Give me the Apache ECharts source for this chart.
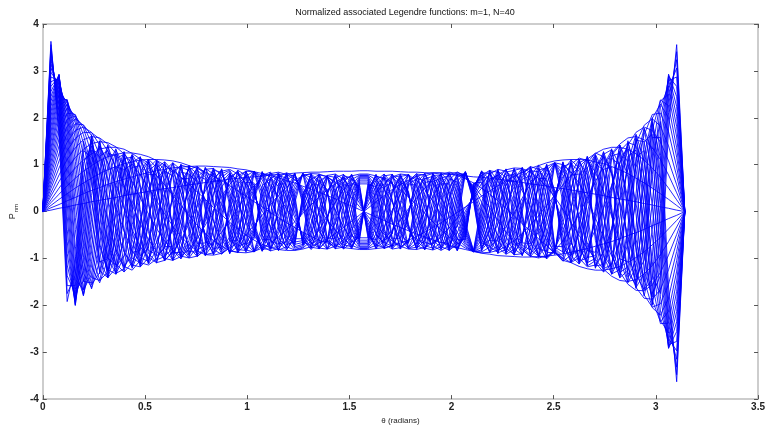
<!DOCTYPE html>
<html>
<head>
<meta charset="utf-8">
<script src="https://cdn.jsdelivr.net/npm/echarts@6/dist/echarts.min.js"></script>
<style>
html,body{margin:0;padding:0;background:#fff;}
#chart{width:768px;height:430px;}
</style>
</head>
<body>
<div id="chart"></div>
<script>
// theta samples (radians)
const theta = [0,0.0398,0.0795,0.1193,0.1591,0.1988,0.2386,0.2784,0.3181,0.3579,0.3977,0.4374,0.4772,0.5170,0.5567,0.5965,0.6363,0.6760,0.7158,0.7556,0.7953,0.8351,0.8749,0.9146,0.9544,0.9942,1.0339,1.0737,1.1135,1.1532,1.1930,1.2328,1.2725,1.3123,1.3521,1.3918,1.4316,1.4714,1.5111,1.5509,1.5907,1.6305,1.6702,1.7100,1.7498,1.7895,1.8293,1.8691,1.9088,1.9486,1.9884,2.0281,2.0679,2.1077,2.1474,2.1872,2.2270,2.2667,2.3065,2.3463,2.3860,2.4258,2.4656,2.5053,2.5451,2.5849,2.6246,2.6644,2.7042,2.7439,2.7837,2.8235,2.8632,2.9030,2.9428,2.9825,3.0223,3.0621,3.1018,3.1416];

// curve values, degree n = 1..40 (read/estimated from the picture)
const p1 = [0,.03,.07,.10,.14,.17,.21,.24,.27,.30,.34,.37,.40,.43,.46,.49,.51,.54,.57,.59,.62,.64,.67,.69,.71,.73,.74,.76,.78,.79,.80,.82,.83,.84,.84,.85,.86,.86,.86,.87,
.87,.86,.86,.86,.85,.84,.84,.83,.82,.80,.79,.78,.76,.74,.73,.71,.69,.67,.64,.62,.59,.57,.54,.51,.49,.46,.43,.40,.37,.34,.30,.27,.24,.21,.17,.14,.10,.07,.03,0];
const p2 = [0,.08,.15,.23,.30,.38,.45,.51,.58,.64,.69,.74,.79,.83,.87,.90,.93,.95,.96,.97,.97,.96,.95,.94,.91,.89,.85,.81,.77,.72,.66,.61,.54,.48,.41,.34,.27,.19,.12,.04,
-.04,-.12,-.19,-.27,-.34,-.41,-.48,-.54,-.61,-.66,-.72,-.77,-.81,-.85,-.89,-.91,-.94,-.95,-.96,-.97,-.97,-.96,-.95,-.93,-.90,-.87,-.83,-.79,-.74,-.69,-.64,-.58,-.51,-.45,-.38,-.30,-.23,-.15,-.08,0];
const p3 = [0,.13,.26,.38,.50,.61,.71,.81,.89,.96,1.02,1.06,1.10,1.11,1.11,1.10,1.08,1.04,.98,.92,.84,.75,.66,.55,.44,.33,.21,.10,-.02,-.13,-.24,-.34,-.44,-.53,-.61,-.67,-.73,-.77,-.79,-.81,
-.81,-.79,-.77,-.73,-.67,-.61,-.53,-.44,-.34,-.24,-.13,-.02,.10,.21,.33,.44,.55,.66,.75,.84,.92,.98,1.04,1.08,1.10,1.11,1.11,1.10,1.06,1.02,.96,.89,.81,.71,.61,.50,.38,.26,.13,0];
const p4 = [0,.19,.37,.55,.71,.86,.98,1.09,1.17,1.22,1.25,1.25,1.22,1.17,1.09,.99,.87,.73,.58,.42,.26,.09,-.07,-.23,-.37,-.50,-.61,-.70,-.77,-.81,-.83,-.83,-.80,-.75,-.67,-.58,-.47,-.34,-.21,-.07,
.07,.21,.34,.47,.58,.67,.75,.80,.83,.83,.81,.77,.70,.61,.50,.37,.23,.07,-.09,-.26,-.42,-.58,-.73,-.87,-.99,-1.09,-1.17,-1.22,-1.25,-1.25,-1.22,-1.17,-1.09,-.98,-.86,-.71,-.55,-.37,-.19,0];
const p5 = [0,.25,.50,.73,.93,1.10,1.23,1.33,1.37,1.37,1.33,1.24,1.12,.96,.77,.57,.35,.13,-.09,-.29,-.47,-.62,-.74,-.83,-.87,-.88,-.85,-.78,-.67,-.54,-.39,-.22,-.04,.14,.31,.46,.59,.69,.76,.80,
.80,.76,.69,.59,.46,.31,.14,-.04,-.22,-.39,-.54,-.67,-.78,-.85,-.88,-.87,-.83,-.74,-.62,-.47,-.29,-.09,.13,.35,.57,.77,.96,1.12,1.24,1.33,1.37,1.37,1.33,1.23,1.10,.93,.73,.50,.25,0];
const p6 = [0,.33,.64,.92,1.15,1.33,1.45,1.49,1.47,1.38,1.23,1.02,.78,.51,.23,-.05,-.31,-.53,-.71,-.84,-.92,-.93,-.89,-.78,-.66,-.50,-.29,-.08,.14,.35,.52,.67,.76,.81,.80,.74,.63,.48,.30,.10,
-.10,-.30,-.48,-.63,-.74,-.80,-.81,-.76,-.67,-.52,-.35,-.14,.08,.29,.50,.66,.78,.89,.93,.92,.84,.71,.53,.31,.05,-.23,-.51,-.78,-1.02,-1.23,-1.38,-1.47,-1.49,-1.45,-1.33,-1.15,-.92,-.64,-.33,0];
const p7 = [0,.40,.78,1.11,1.36,1.53,1.60,1.57,1.44,1.24,.96,.64,.29,-.05,-.36,-.63,-.83,-.95,-.99,-.95,-.82,-.65,-.44,-.19,.08,.33,.55,.71,.81,.84,.79,.68,.50,.29,.06,-.18,-.40,-.59,-.72,-.79,
-.79,-.72,-.59,-.40,-.18,.06,.29,.50,.68,.79,.84,.81,.71,.55,.33,.08,-.19,-.44,-.65,-.82,-.95,-.99,-.95,-.83,-.63,-.36,-.05,.29,.64,.96,1.24,1.44,1.57,1.60,1.53,1.36,1.11,.78,.40,0];
const p8 = [0,.49,.93,1.30,1.56,1.69,1.68,1.55,1.29,.95,.55,.14,-.26,-.60,-.85,-1.00,-1.04,-.96,-.80,-.58,-.29,.03,.33,.58,.76,.86,.85,.75,.57,.33,.06,-.22,-.47,-.66,-.78,-.80,-.74,-.60,-.39,-.13,
.13,.39,.60,.74,.80,.78,.66,.47,.22,-.06,-.33,-.57,-.75,-.85,-.86,-.76,-.58,-.33,-.03,.29,.58,.80,.96,1.04,1.00,.85,.60,.26,-.14,-.55,-.95,-1.29,-1.55,-1.68,-1.69,-1.56,-1.30,-.93,-.49,0];
const p9 = [0,.57,1.08,1.48,1.73,1.80,1.69,1.42,1.03,.56,.07,-.39,-.75,-.98,-1.09,-1.04,-.87,-.61,-.26,.11,.44,.71,.86,.90,.80,.60,.32,.01,-.31,-.57,-.75,-.82,-.78,-.63,-.39,-.10,.20,.47,.68,.78,
.78,.68,.47,.20,-.10,-.39,-.63,-.78,-.82,-.75,-.57,-.31,.01,.32,.60,.80,.90,.86,.71,.44,.11,-.26,-.61,-.87,-1.04,-1.09,-.98,-.75,-.39,.07,.56,1.03,1.42,1.69,1.80,1.73,1.48,1.08,.57,0];
const p10 = [0,.66,1.24,1.66,1.87,1.85,1.62,1.20,.67,.10,-.42,-.84,-1.09,-1.14,-1.01,-.74,-.39,.03,.43,.73,.90,.92,.78,.51,.17,-.20,-.52,-.74,-.84,-.79,-.61,-.33,.01,.34,.60,.77,.80,.69,.47,.17,
-.17,-.47,-.69,-.80,-.77,-.60,-.34,-.01,.33,.61,.79,.84,.74,.52,.20,-.17,-.51,-.78,-.92,-.90,-.73,-.43,-.03,.39,.74,1.01,1.14,1.09,.84,.42,-.10,-.67,-1.20,-1.62,-1.85,-1.87,-1.66,-1.24,-.66,0];
const p11 = [0,.76,1.40,1.82,1.98,1.84,1.46,.89,.25,-.36,-.86,-1.14,-1.18,-.99,-.66,-.22,.26,.65,.90,.96,.83,.53,.14,-.27,-.61,-.82,-.86,-.72,-.44,-.08,.30,.60,.78,.80,.66,.38,.03,-.33,-.62,-.78,
-.78,-.62,-.33,.03,.38,.66,.80,.78,.60,.30,-.08,-.44,-.72,-.86,-.82,-.61,-.27,.14,.53,.83,.96,.90,.65,.26,-.22,-.66,-.99,-1.18,-1.14,-.86,-.36,.25,.89,1.46,1.84,1.98,1.82,1.40,.76,0];
const p12 = [0,0.85,1.55,1.97,2.04,1.78,1.23,0.52,-0.20,-0.81,-1.17,-1.25,-1.04,-0.60,-0.08,0.40,0.80,0.99,0.94,0.67,0.25,-0.21,-0.60,-0.84,-0.87,-0.70,-0.36,0.06,0.45,0.73,0.83,0.73,0.45,0.07,-0.32,-0.63,-0.79,-0.76,-0.54,-0.20,
0.20,0.54,0.76,0.79,0.63,0.32,-0.07,-0.45,-0.73,-0.83,-0.73,-0.45,-0.06,0.36,0.70,0.87,0.84,0.60,0.21,-0.25,-0.67,-0.94,-0.99,-0.80,-0.40,0.08,0.60,1.04,1.25,1.17,0.81,0.20,-0.52,-1.23,-1.78,-2.04,-1.97,-1.55,-0.85,0];
const p13 = [0,.95,1.70,2.10,2.07,1.64,.94,.11,-.63,-1.12,-1.29,-1.09,-.67,-.10,.48,.88,1.04,.89,.51,.01,-.48,-.81,-.91,-.76,-.40,.06,.49,.77,.84,.67,.31,-.12,-.52,-.76,-.79,-.60,-.24,.18,.55,.77,
.77,.55,.18,-.24,-.60,-.79,-.76,-.52,-.12,.31,.67,.84,.77,.49,.06,-.40,-.76,-.91,-.81,-.48,.01,.51,.89,1.04,.88,.48,-.10,-.67,-1.09,-1.29,-1.12,-.63,.11,.94,1.64,2.07,2.10,1.70,.95,0];
const p14 = [0,1.05,1.85,2.21,2.05,1.46,.59,-.30,-.99,-1.32,-1.22,-.79,-.18,.47,.93,1.06,.87,.40,-.17,-.66,-.92,-.88,-.56,-.08,.41,.76,.86,.68,.29,-.19,-.60,-.81,-.76,-.46,-.02,.42,.72,.79,.61,.23,
-.23,-.61,-.79,-.72,-.42,.02,.46,.76,.81,.60,.19,-.29,-.68,-.86,-.76,-.41,.08,.56,.88,.92,.66,.17,-.40,-.87,-1.06,-.93,-.47,.18,.79,1.22,1.32,.99,.30,-.59,-1.46,-2.05,-2.21,-1.85,-1.05,0];
const p15 = [0,1.16,2.00,2.29,1.99,1.21,0.21,-0.69,-1.24,-1.33,-0.96,-0.28,0.41,0.93,1.10,0.87,0.35,-0.27,-0.76,-0.96,-0.81,-0.37,0.19,0.66,0.88,0.77,0.39,-0.13,-0.59,-0.82,-0.75,-0.41,0.07,0.53,0.78,0.75,0.44,-0.02,-0.48,-0.76,
-0.76,-0.48,-0.02,0.44,0.75,0.78,0.53,0.07,-0.41,-0.75,-0.82,-0.59,-0.13,0.39,0.77,0.88,0.66,0.19,-0.37,-0.81,-0.96,-0.76,-0.27,0.35,0.87,1.10,0.93,0.41,-0.28,-0.96,-1.33,-1.24,-0.69,0.21,1.21,1.99,2.29,2.00,1.16,0];
const p16 = [0,1.27,2.13,2.35,1.89,.93,-.17,-1.04,-1.41,-1.20,-.59,.18,.85,1.12,.94,.38,-.30,-.82,-.99,-.75,-.21,.39,.81,.88,.60,.08,-.46,-.80,-.80,-.47,.04,.54,.80,.73,.36,-.15,-.60,-.80,-.66,-.26,
.26,.66,.80,.60,.15,-.36,-.73,-.80,-.54,-.04,.47,.80,.80,.46,-.08,-.60,-.88,-.81,-.39,.21,.75,.99,.82,.30,-.38,-.94,-1.12,-.85,-.18,.59,1.20,1.41,1.04,.17,-.93,-1.89,-2.35,-2.13,-1.27,0];
const p17 = [0,1.36,2.26,2.38,1.74,0.61,-0.54,-1.26,-1.41,-0.90,-0.10,0.70,1.13,1.04,0.50,-0.24,-0.83,-1.01,-0.72,-0.13,0.51,0.88,0.84,0.42,-0.18,-0.69,-0.86,-0.64,-0.13,0.43,0.78,0.77,0.40,-0.15,-0.62,-0.80,-0.61,-0.14,0.40,0.75,
0.75,0.40,-0.14,-0.61,-0.80,-0.62,-0.15,0.40,0.77,0.78,0.43,-0.13,-0.64,-0.86,-0.69,-0.18,0.42,0.84,0.88,0.51,-0.13,-0.72,-1.01,-0.83,-0.24,0.50,1.04,1.13,0.70,-0.10,-0.90,-1.41,-1.26,-0.54,0.61,1.74,2.38,2.26,1.36,0];
const p18 = [0,1.48,2.38,2.39,1.56,.27,-.89,-1.47,-1.29,-.55,.36,1.05,1.16,.68,-.10,-.78,-1.04,-.76,-.11,.57,.92,.80,.28,-.37,-.81,-.83,-.42,.19,.69,.83,.54,-.03,-.57,-.81,-.64,-.14,.43,.77,.71,.29,
-.29,-.71,-.77,-.43,.14,.64,.81,.57,.03,-.54,-.83,-.69,-.19,.42,.83,.81,.37,-.28,-.80,-.92,-.57,.11,.76,1.04,.78,.10,-.68,-1.16,-1.05,-.36,.55,1.29,1.47,.89,-.27,-1.56,-2.39,-2.38,-1.48,0];
const p19 = [0,1.59,2.50,2.36,1.32,-0.08,-1.18,-1.52,-1.02,-0.05,0.84,1.22,0.93,0.15,-0.66,-1.05,-0.84,-0.17,0.56,0.95,0.79,0.19,-0.49,-0.87,-0.75,-0.21,0.43,0.82,0.74,0.24,-0.39,-0.78,-0.73,-0.26,0.35,0.76,0.73,0.29,-0.32,-0.74,
-0.74,-0.32,0.29,0.73,0.76,0.35,-0.26,-0.73,-0.78,-0.39,0.24,0.74,0.82,0.43,-0.21,-0.75,-0.87,-0.49,0.19,0.79,0.95,0.56,-0.17,-0.84,-1.05,-0.66,0.15,0.93,1.22,0.84,-0.05,-1.02,-1.52,-1.18,-0.08,1.32,2.36,2.50,1.59,0];
const p20 = [0,1.70,2.59,2.32,1.07,-.43,-1.41,-1.47,-.71,.36,1.13,1.16,.49,-.43,-1.03,-.96,-.31,.49,.95,.81,.18,-.54,-.90,-.69,-.06,.59,.86,.59,-.04,-.64,-.82,-.50,.14,.68,.79,.40,-.23,-.71,-.75,-.32,
.32,.75,.71,.23,-.40,-.79,-.68,-.14,.50,.82,.64,.04,-.59,-.86,-.59,.06,.69,.90,.54,-.18,-.81,-.95,-.49,.31,.96,1.03,.43,-.49,-1.16,-1.13,-.36,.71,1.47,1.41,.43,-1.07,-2.32,-2.59,-1.70,0];
const p21 = [0,1.81,2.68,2.23,0.79,-0.75,-1.56,-1.30,-0.28,0.81,1.27,0.89,-0.06,-0.89,-1.08,-0.53,0.33,0.94,0.88,0.24,-0.54,-0.92,-0.67,0.03,0.68,0.86,0.45,-0.26,-0.77,-0.75,-0.22,0.46,0.81,0.61,-0.01,-0.61,-0.79,-0.43,0.23,0.73,
0.73,0.23,-0.43,-0.79,-0.61,-0.01,0.61,0.81,0.46,-0.22,-0.75,-0.77,-0.26,0.45,0.86,0.68,0.03,-0.67,-0.92,-0.54,0.24,0.88,0.94,0.33,-0.53,-1.08,-0.89,-0.06,0.89,1.27,0.81,-0.28,-1.30,-1.56,-0.75,0.79,2.23,2.68,1.81,0];
const p22 = [0,1.92,2.76,2.12,.49,-1.06,-1.65,-1.05,.16,1.13,1.22,.44,-.59,-1.12,-.81,.08,.86,.97,.37,-.47,-.93,-.69,.05,.73,.85,.34,-.40,-.84,-.64,.03,.66,.80,.34,-.37,-.79,-.62,.01,.63,.78,.34,
-.34,-.78,-.63,-.01,.62,.79,.37,-.34,-.80,-.66,-.03,.64,.84,.40,-.34,-.85,-.73,-.05,.69,.93,.47,-.37,-.97,-.86,-.08,.81,1.12,.59,-.44,-1.22,-1.13,-.16,1.05,1.65,1.06,-.49,-2.12,-2.76,-1.92,0];
const p23 = [0,2.03,2.82,1.98,0.18,-1.32,-1.62,-0.72,0.60,1.31,0.98,-0.08,-0.99,-1.06,-0.29,0.65,1.04,0.58,-0.32,-0.92,-0.77,-0.01,0.73,0.86,0.30,-0.48,-0.86,-0.54,0.21,0.77,0.71,0.08,-0.61,-0.79,-0.34,0.39,0.79,0.56,-0.13,-0.71,
-0.71,-0.13,0.56,0.79,0.39,-0.34,-0.79,-0.61,0.08,0.71,0.77,0.21,-0.54,-0.86,-0.48,0.30,0.86,0.73,-0.01,-0.77,-0.92,-0.32,0.58,1.04,0.65,-0.29,-1.06,-0.99,-0.08,0.98,1.31,0.60,-0.72,-1.62,-1.32,0.18,1.98,2.82,2.03,0];
const p24 = [0,2.13,2.87,1.82,-.13,-1.49,-1.52,-.33,.97,1.34,.58,-.60,-1.18,-.72,.31,1.01,.82,-.07,-.85,-.87,-.14,.68,.89,.32,-.50,-.87,-.48,.32,.82,.60,-.14,-.75,-.70,-.04,.65,.76,.21,-.52,-.79,-.37,
.37,.79,.52,-.21,-.76,-.65,.04,.70,.75,.14,-.60,-.82,-.32,.48,.87,.50,-.32,-.89,-.68,.14,.87,.85,.07,-.82,-1.01,-.31,.72,1.18,.60,-.58,-1.34,-.97,.33,1.52,1.49,.13,-1.82,-2.87,-2.13,0];
const p25 = [0,2.24,2.90,1.63,-0.38,-1.67,-1.34,0.08,1.24,1.19,0.09,-1.00,-1.09,-0.19,0.82,1.02,0.28,-0.68,-0.97,-0.35,0.57,0.92,0.41,-0.47,-0.88,-0.47,0.37,0.85,0.52,-0.28,-0.81,-0.57,0.20,0.77,0.62,-0.12,-0.74,-0.66,0.04,0.70,
0.70,0.04,-0.66,-0.74,-0.12,0.62,0.77,0.20,-0.57,-0.81,-0.28,0.52,0.85,0.37,-0.47,-0.88,-0.47,0.41,0.92,0.57,-0.35,-0.97,-0.68,0.28,1.02,0.82,-0.19,-1.09,-1.00,0.09,1.19,1.24,0.08,-1.34,-1.67,-0.38,1.63,2.90,2.24,0];
const p26 = [0,2.35,2.92,1.42,-.74,-1.78,-1.07,.50,1.40,.90,-.41,-1.21,-.77,.38,1.09,.67,-.37,-1.00,-.61,.36,.94,.56,-.36,-.89,-.52,.36,.86,.48,-.36,-.83,-.46,.37,.82,.44,-.38,-.80,-.42,.39,.80,.40,
-.40,-.80,-.39,.42,.80,.38,-.44,-.82,-.37,.46,.83,.36,-.48,-.86,-.36,.52,.89,.36,-.56,-.94,-.36,.61,1.00,.37,-.67,-1.09,-.38,.77,1.21,.41,-.90,-1.40,-.50,1.07,1.78,.74,-1.42,-2.92,-2.35,0];
const p27 = [0,2.45,2.93,1.20,-0.96,-1.80,-0.76,0.84,1.42,0.49,-0.85,-1.19,-0.27,0.86,1.02,0.09,-0.88,-0.87,0.05,0.88,0.74,-0.18,-0.87,-0.62,0.28,0.86,0.50,-0.38,-0.84,-0.39,0.47,0.81,0.28,-0.55,-0.78,-0.17,0.62,0.73,0.05,-0.68,
-0.68,0.05,0.73,0.62,-0.17,-0.78,-0.55,0.28,0.81,0.47,-0.39,-0.84,-0.38,0.50,0.86,0.28,-0.62,-0.87,-0.18,0.74,0.88,0.05,-0.87,-0.88,0.09,1.02,0.86,-0.27,-1.19,-0.85,0.49,1.42,0.84,-0.76,-1.80,-0.96,1.20,2.93,2.45,0];
const p28 = [0,2.56,2.91,.96,-1.28,-1.77,-.39,1.18,1.30,.01,-1.16,-.95,.29,1.11,.64,-.52,-1.04,-.36,.68,.91,.10,-.79,-.76,.13,.85,.58,-.34,-.85,-.38,.52,.81,.17,-.65,-.72,.04,.75,.59,-.25,-.79,-.43,
.43,.79,.25,-.59,-.75,-.04,.72,.65,-.17,-.81,-.52,.38,.85,.34,-.58,-.85,-.13,.76,.79,-.10,-.91,-.68,.36,1.04,.52,-.64,-1.11,-.29,.95,1.16,-.01,-1.30,-1.18,.39,1.77,1.28,-.96,-2.91,-2.56,0];
const p29 = [0,2.67,2.88,0.70,-1.45,-1.66,-0.05,1.38,1.05,-0.46,-1.28,-0.53,0.78,1.07,0.07,-0.95,-0.79,0.31,0.98,0.45,-0.60,-0.89,-0.10,0.78,0.69,-0.23,-0.85,-0.43,0.51,0.81,0.12,-0.70,-0.66,0.19,0.80,0.43,-0.46,-0.78,-0.15,0.67,
0.67,-0.15,-0.78,-0.46,0.43,0.80,0.19,-0.66,-0.70,0.12,0.81,0.51,-0.43,-0.85,-0.23,0.69,0.78,-0.10,-0.89,-0.60,0.45,0.98,0.31,-0.79,-0.95,0.07,1.07,0.78,-0.53,-1.28,-0.46,1.05,1.38,-0.05,-1.66,-1.45,0.70,2.88,2.67,0];
const p30 = [0,2.77,2.84,0.44,-1.65,-1.49,0.34,1.50,0.70,-0.87,-1.20,-0.01,1.10,0.75,-0.51,-1.05,-0.24,0.84,0.80,-0.25,-0.94,-0.40,0.63,0.82,-0.04,-0.83,-0.53,0.44,0.83,0.14,-0.71,-0.64,0.26,0.81,0.31,-0.59,-0.72,0.08,0.77,0.46,
-0.46,-0.77,-0.08,0.72,0.59,-0.31,-0.81,-0.26,0.64,0.71,-0.14,-0.83,-0.44,0.53,0.83,0.04,-0.82,-0.63,0.40,0.94,0.25,-0.80,-0.84,0.24,1.05,0.51,-0.75,-1.10,0.01,1.20,0.87,-0.70,-1.50,-0.34,1.49,1.65,-0.44,-2.84,-2.77,0];
const p31 = [0,2.87,2.79,0.17,-1.82,-1.26,0.71,1.51,0.27,-1.18,-0.94,0.51,1.17,0.24,-0.95,-0.79,0.41,1.01,0.22,-0.82,-0.72,0.35,0.91,0.22,-0.74,-0.67,0.31,0.85,0.22,-0.69,-0.65,0.28,0.82,0.23,-0.66,-0.64,0.26,0.80,0.24,-0.65,
-0.65,0.24,0.80,0.26,-0.64,-0.66,0.23,0.82,0.28,-0.65,-0.69,0.22,0.85,0.31,-0.67,-0.74,0.22,0.91,0.35,-0.72,-0.82,0.22,1.01,0.41,-0.79,-0.95,0.24,1.17,0.51,-0.94,-1.18,0.27,1.51,0.71,-1.26,-1.82,0.17,2.79,2.87,0];
const p32 = [0,2.97,2.71,-0.10,-1.92,-0.98,1.04,1.40,-0.18,-1.34,-0.53,0.94,0.98,-0.34,-1.10,-0.26,0.90,0.73,-0.46,-0.94,-0.07,0.87,0.53,-0.55,-0.82,0.10,0.85,0.37,-0.63,-0.70,0.24,0.82,0.22,-0.69,-0.59,0.36,0.79,0.07,-0.75,-0.48,
0.48,0.75,-0.07,-0.79,-0.36,0.59,0.69,-0.22,-0.82,-0.24,0.70,0.63,-0.37,-0.85,-0.10,0.82,0.55,-0.53,-0.87,0.07,0.94,0.46,-0.73,-0.90,0.26,1.10,0.34,-0.98,-0.94,0.53,1.34,0.18,-1.40,-1.04,0.98,1.92,0.10,-2.71,-2.97,0];
const p33 = [0,3.06,2.62,-0.38,-2.00,-0.67,1.31,1.18,-0.62,-1.32,-0.04,1.19,0.57,-0.83,-0.92,0.36,1.03,0.13,-0.92,-0.55,0.63,0.82,-0.23,-0.90,-0.20,0.78,0.56,-0.50,-0.78,0.13,0.82,0.26,-0.69,-0.59,0.41,0.77,-0.04,-0.79,-0.33,0.63,
0.63,-0.33,-0.79,-0.04,0.77,0.41,-0.59,-0.69,0.26,0.82,0.13,-0.78,-0.50,0.56,0.78,-0.20,-0.90,-0.23,0.82,0.63,-0.55,-0.92,0.13,1.03,0.36,-0.92,-0.83,0.57,1.19,-0.04,-1.32,-0.62,1.18,1.31,-0.67,-2.00,-0.38,2.62,3.06,0];
const p34 = [0,3.15,2.51,-0.64,-2.00,-0.33,1.51,0.86,-0.99,-1.14,0.46,1.21,0.04,-1.10,-0.46,0.86,0.76,-0.53,-0.93,0.14,0.94,0.23,-0.82,-0.54,0.59,0.75,-0.28,-0.84,-0.06,0.81,0.37,-0.65,-0.62,0.39,0.77,-0.09,-0.80,-0.23,0.71,0.50,
-0.50,-0.71,0.23,0.80,0.09,-0.77,-0.39,0.62,0.65,-0.37,-0.81,0.06,0.84,0.28,-0.75,-0.59,0.54,0.82,-0.23,-0.94,-0.14,0.93,0.53,-0.76,-0.86,0.46,1.10,-0.04,-1.21,-0.46,1.14,0.99,-0.86,-1.51,0.33,2.00,0.64,-2.51,-3.15,0];
const p35 = [0,3.24,2.40,-0.89,-1.97,0.03,1.62,0.49,-1.26,-0.81,0.89,1.01,-0.51,-1.08,0.14,1.06,0.19,-0.95,-0.48,0.76,0.69,-0.51,-0.83,0.24,0.88,0.04,-0.84,-0.30,0.73,0.53,-0.55,-0.69,0.33,0.79,-0.07,-0.80,-0.18,0.74,0.41,-0.61,
-0.61,0.41,0.74,-0.18,-0.80,-0.07,0.79,0.33,-0.69,-0.55,0.53,0.73,-0.30,-0.84,0.04,0.88,0.24,-0.83,-0.51,0.69,0.76,-0.48,-0.95,0.19,1.06,0.14,-1.08,-0.51,1.01,0.89,-0.81,-1.26,0.49,1.62,0.03,-1.97,-0.89,2.40,3.24,0];
const p36 = [0,3.32,2.27,-1.14,-1.88,0.38,1.64,0.08,-1.41,-0.39,1.18,0.62,-0.94,-0.78,0.70,0.89,-0.45,-0.96,0.20,0.96,0.03,-0.92,-0.24,0.83,0.43,-0.71,-0.58,0.55,0.70,-0.37,-0.78,0.18,0.81,0.01,-0.80,-0.20,0.75,0.38,-0.66,-0.53,
0.53,0.66,-0.38,-0.75,0.20,0.80,-0.01,-0.81,-0.18,0.78,0.37,-0.70,-0.55,0.58,0.71,-0.43,-0.83,0.24,0.92,-0.03,-0.96,-0.20,0.96,0.45,-0.89,-0.70,0.78,0.94,-0.62,-1.18,0.39,1.41,-0.08,-1.64,-0.38,1.88,1.14,-2.27,-3.32,0];
const p37 = [0,3.41,2.11,-1.37,-1.75,0.72,1.56,-0.34,-1.41,0.09,1.28,0.11,-1.16,-0.28,1.04,0.42,-0.92,-0.54,0.79,0.64,-0.65,-0.72,0.52,0.78,-0.38,-0.81,0.24,0.83,-0.11,-0.83,-0.03,0.82,0.15,-0.78,-0.28,0.73,0.39,-0.67,-0.50,0.59,
0.59,-0.50,-0.67,0.39,0.73,-0.28,-0.78,0.15,0.82,-0.03,-0.83,-0.11,0.83,0.24,-0.81,-0.38,0.78,0.52,-0.72,-0.65,0.64,0.79,-0.54,-0.92,0.42,1.04,-0.28,-1.16,0.11,1.28,0.09,-1.41,-0.34,1.56,0.72,-1.75,-1.37,2.11,3.41,0];
const p38 = [0,3.48,1.95,-1.58,-1.58,1.03,1.40,-0.74,-1.28,0.56,1.19,-0.42,-1.12,0.30,1.07,-0.20,-1.03,0.11,0.98,-0.03,-0.94,-0.05,0.91,0.12,-0.87,-0.18,0.83,0.24,-0.80,-0.30,0.76,0.36,-0.72,-0.41,0.68,0.46,-0.64,-0.51,0.60,0.55,
-0.55,-0.60,0.51,0.64,-0.46,-0.68,0.41,0.72,-0.36,-0.76,0.30,0.80,-0.24,-0.83,0.18,0.87,-0.12,-0.91,0.05,0.94,0.03,-0.98,-0.11,1.03,0.20,-1.07,-0.30,1.12,0.42,-1.19,-0.56,1.28,0.74,-1.40,-1.03,1.58,1.58,-1.95,-3.48,0];
const p39 = [0,3.56,1.78,-1.75,-1.36,1.3,1.16,-1.07,-1.01,0.95,0.90,-0.87,-0.83,0.80,0.78,-0.75,-0.74,0.71,0.70,-0.68,-0.67,0.66,0.64,-0.63,-0.62,0.62,0.61,-0.60,-0.60,0.59,0.59,-0.58,-0.58,0.57,0.57,-0.57,-0.57,0.57,0.56,-0.56,
-0.56,0.56,0.57,-0.57,-0.57,0.57,0.57,-0.58,-0.58,0.59,0.59,-0.60,-0.60,0.61,0.62,-0.62,-0.63,0.64,0.66,-0.67,-0.68,0.70,0.71,-0.74,-0.75,0.78,0.80,-0.83,-0.87,0.90,0.95,-1.01,-1.07,1.16,1.3,-1.36,-1.75,1.78,3.56,0];
const p40 = [0,3.63,1.61,-1.92,-1.1,1.5,0.85,-1.33,-0.64,1.23,0.48,-1.16,-0.36,1.09,0.25,-1.04,-0.15,1.00,0.07,-0.96,0.01,0.93,-0.08,-0.89,0.15,0.85,-0.21,-0.82,0.27,0.78,-0.33,-0.74,0.38,0.70,-0.43,-0.66,0.48,0.62,-0.53,-0.58,
0.58,0.53,-0.62,-0.48,0.66,0.43,-0.70,-0.38,0.74,0.33,-0.78,-0.27,0.82,0.21,-0.85,-0.15,0.89,0.08,-0.93,-0.01,0.96,-0.07,-1.00,0.15,1.04,-0.25,-1.09,0.36,1.16,-0.48,-1.23,0.64,1.33,-0.85,-1.5,1.1,1.92,-1.61,-3.63,0];

const curves = [p1,p2,p3,p4,p5,p6,p7,p8,p9,p10,p11,p12,p13,p14,p15,p16,p17,p18,p19,p20,
                p21,p22,p23,p24,p25,p26,p27,p28,p29,p30,p31,p32,p33,p34,p35,p36,p37,p38,p39,p40];

const titleText = 'Normalized associated Legendre functions: m=1, N=40';
const xName = 'θ (radians)';

const chart = echarts.init(document.getElementById('chart'), null, {renderer:'canvas'});

const FONT = 'Liberation Sans, Arial, sans-serif';
const axisLineStyle = {onZero:false, lineStyle:{color:'#bdbdbd', width:1.5}};
const tickStyle = {show:true, inside:true, length:4, lineStyle:{color:'#555', width:1}};
const labelFont = {fontFamily:FONT, fontSize:10, color:'#222', fontWeight:'bold'};

const series = curves.map((vals) => ({
  type:'line',
  xAxisIndex:0, yAxisIndex:0,
  data: theta.map((t, j) => [t, vals[j]]),
  showSymbol:false,
  symbol:'none',
  silent:true,
  animation:false,
  lineStyle:{color:'#0000ff', width:0.85, opacity:1},
  z:2
}));

chart.setOption({
  animation:false,
  backgroundColor:'#ffffff',
  title:{
    text:titleText, left:400, top:3, textAlign:'center',
    textStyle:{fontFamily:FONT, fontSize:9, fontWeight:'normal', color:'#111'}
  },
  grid:{left:35, right:4, top:24, bottom:22, containLabel:false},
  xAxis:[
    {type:'value', min:0, max:3.5, interval:0.5, position:'bottom',
     axisLine:axisLineStyle, axisTick:tickStyle, splitLine:{show:false},
     axisLabel:Object.assign({margin:3}, labelFont),
     name:xName, nameLocation:'middle', nameGap:15,
     nameTextStyle:{fontFamily:FONT, fontSize:8, color:'#222'}},
    {type:'value', min:0, max:3.5, interval:0.5, position:'top',
     axisLine:axisLineStyle, axisTick:tickStyle, splitLine:{show:false}, axisLabel:{show:false}}
  ],
  yAxis:[
    {type:'value', min:-4, max:4, interval:1, position:'left',
     axisLine:axisLineStyle, axisTick:tickStyle, splitLine:{show:false},
     axisLabel:Object.assign({margin:4}, labelFont),
     name:'{p|P}{s|nm}', nameLocation:'middle', nameGap:20, nameRotate:90,
     nameTextStyle:{rich:{
       p:{fontFamily:FONT, fontSize:9, color:'#222', lineHeight:12},
       s:{fontFamily:FONT, fontSize:6, color:'#222', verticalAlign:'bottom', padding:[7,0,0,1]}
     }}},
    {type:'value', min:-4, max:4, interval:1, position:'right',
     axisLine:axisLineStyle, axisTick:tickStyle, splitLine:{show:false}, axisLabel:{show:false}}
  ],
  series:series
});
</script>
</body>
</html>
